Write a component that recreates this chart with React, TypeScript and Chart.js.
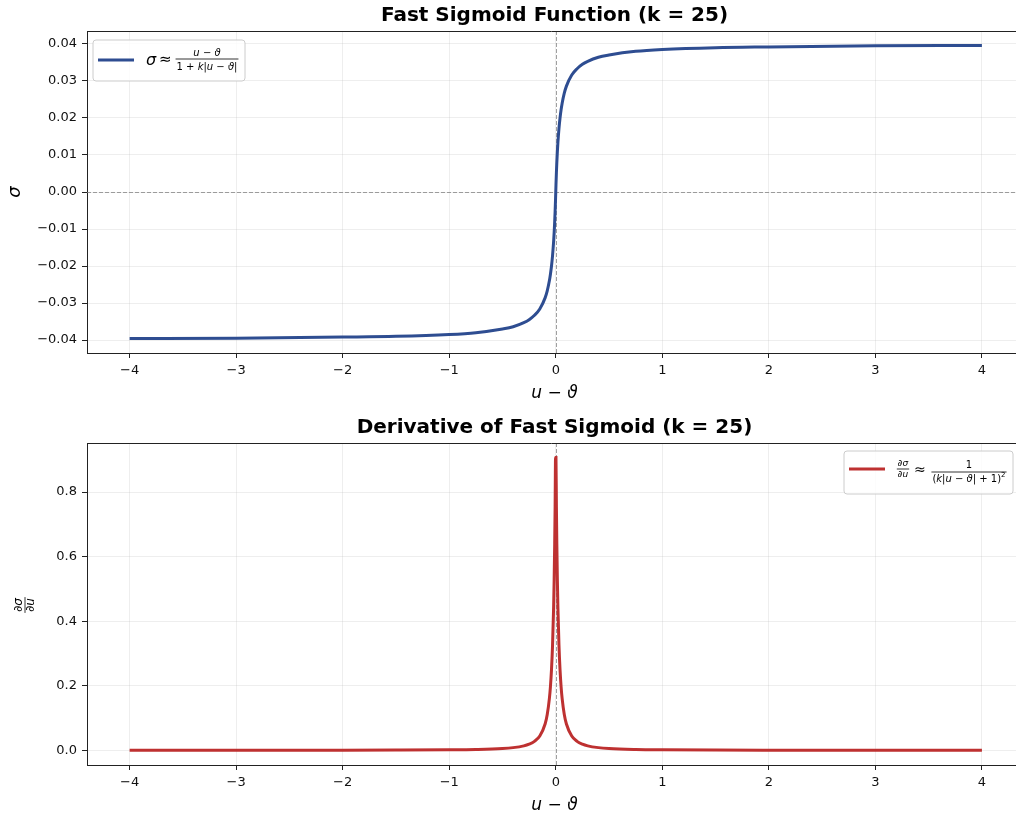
import React, { useEffect, useRef } from "react";
import { Chart, registerables } from "chart.js";

Chart.register(...registerables);

// ---- Data (u − ϑ values and curve values) ----
const xValues: number[] = [
  -4, -3, -2, -1.5, -1, -0.75, -0.5, -0.4, -0.3, -0.25, -0.2, -0.15, -0.1, -0.08, -0.06,
  -0.05, -0.04, -0.03, -0.02, -0.015, -0.01, -0.006, -0.002,
  0.002, 0.006, 0.01, 0.015, 0.02, 0.03, 0.04, 0.05, 0.06, 0.08, 0.1, 0.15, 0.2, 0.25,
  0.3, 0.4, 0.5, 0.75, 1, 1.5, 2, 3, 4,
];

const sigmaValues: number[] = [
  -0.0396, -0.0395, -0.0392, -0.039, -0.0385, -0.038, -0.037, -0.0364, -0.0353, -0.0345,
  -0.0333, -0.0316, -0.0286, -0.0267, -0.024, -0.0222, -0.02, -0.0171, -0.0133, -0.0109,
  -0.008, -0.0052, -0.0019,
  0.0019, 0.0052, 0.008, 0.0109, 0.0133, 0.0171, 0.02, 0.0222, 0.024, 0.0267, 0.0286,
  0.0316, 0.0333, 0.0345, 0.0353, 0.0364, 0.037, 0.038, 0.0385, 0.039, 0.0392, 0.0395, 0.0396,
];

const derivValues: number[] = [
  0.0001, 0.0002, 0.0004, 0.0007, 0.0015, 0.0026, 0.0055, 0.0083, 0.0138, 0.019,
  0.0278, 0.0443, 0.0816, 0.111, 0.16, 0.1975, 0.25, 0.3265, 0.444, 0.529, 0.64, 0.756, 0.907,
  0.907, 0.756, 0.64, 0.529, 0.444, 0.3265, 0.25, 0.1975, 0.16, 0.111, 0.0816, 0.0443,
  0.0278, 0.019, 0.0138, 0.0083, 0.0055, 0.0026, 0.0015, 0.0007, 0.0004, 0.0002, 0.0001,
];

const topTitle = "Fast Sigmoid Function (k = 25)";
const bottomTitle = "Derivative of Fast Sigmoid (k = 25)";
const xTickValues: number[] = [-4, -3, -2, -1, 0, 1, 2, 3, 4];

const FF = '"DejaVu Sans", sans-serif';
const BLUE = "#2E4D91";
const RED = "#BE3131";

type Piece = [string, boolean];

function fnt(size: number, italic = false, bold = false) {
  return `${italic ? "italic " : ""}${bold ? "bold " : ""}${size}px ${FF}`;
}
function richW(ctx: CanvasRenderingContext2D, pcs: Piece[], size: number) {
  let w = 0;
  for (const [t, it] of pcs) {
    ctx.font = fnt(size, it);
    w += ctx.measureText(t).width;
  }
  return w;
}
function drawRich(
  ctx: CanvasRenderingContext2D,
  pcs: Piece[],
  x: number,
  y: number,
  size: number,
  align: "left" | "center"
) {
  const w = richW(ctx, pcs, size);
  let cx = align === "center" ? x - w / 2 : x;
  ctx.textAlign = "left";
  ctx.textBaseline = "middle";
  for (const [t, it] of pcs) {
    ctx.font = fnt(size, it);
    ctx.fillText(t, cx, y);
    cx += ctx.measureText(t).width;
  }
  return w;
}
function drawFrac(
  ctx: CanvasRenderingContext2D,
  num: Piece[],
  den: Piece[],
  cx: number,
  barY: number,
  size: number,
  gapN: number,
  gapD: number,
  sup?: string
) {
  const nw = richW(ctx, num, size);
  const dw = richW(ctx, den, size);
  let supW = 0;
  if (sup) {
    ctx.font = fnt(size * 0.7);
    supW = ctx.measureText(sup).width;
  }
  const w = Math.max(nw, dw + supW) + 2;
  ctx.save();
  ctx.strokeStyle = "#000";
  ctx.lineWidth = 0.8;
  ctx.beginPath();
  ctx.moveTo(cx - w / 2, barY);
  ctx.lineTo(cx + w / 2, barY);
  ctx.stroke();
  ctx.fillStyle = "#000";
  drawRich(ctx, num, cx, barY - gapN, size, "center");
  const dl = cx - (dw + supW) / 2;
  drawRich(ctx, den, dl, barY + gapD, size, "left");
  if (sup) {
    ctx.font = fnt(size * 0.7);
    ctx.textBaseline = "middle";
    ctx.fillText(sup, dl + dw, barY + gapD - size * 0.35);
  }
  ctx.restore();
  return w;
}

function legendBox(ctx: CanvasRenderingContext2D, x: number, y: number, w: number, h: number) {
  const r = 3;
  ctx.save();
  ctx.beginPath();
  ctx.moveTo(x + r, y);
  ctx.lineTo(x + w - r, y);
  ctx.quadraticCurveTo(x + w, y, x + w, y + r);
  ctx.lineTo(x + w, y + h - r);
  ctx.quadraticCurveTo(x + w, y + h, x + w - r, y + h);
  ctx.lineTo(x + r, y + h);
  ctx.quadraticCurveTo(x, y + h, x, y + h - r);
  ctx.lineTo(x, y + r);
  ctx.quadraticCurveTo(x, y, x + r, y);
  ctx.closePath();
  ctx.fillStyle = "rgba(255,255,255,0.85)";
  ctx.fill();
  ctx.strokeStyle = "#cccccc";
  ctx.lineWidth = 1;
  ctx.stroke();
  ctx.restore();
}

const UT: Piece[] = [["u", true], [" − ", false], ["ϑ", true]];

function makeDecor(which: "top" | "bottom") {
  return {
    id: "decor-" + which,
    beforeDatasetsDraw(chart: any) {
      const { ctx, chartArea: a, scales } = chart;
      ctx.save();
      ctx.strokeStyle = "rgba(128,128,128,0.75)";
      ctx.lineWidth = 1;
      ctx.setLineDash([4, 2]);
      const x0 = Math.round(scales.x.getPixelForValue(0)) + 0.5;
      ctx.beginPath();
      ctx.moveTo(x0, a.top);
      ctx.lineTo(x0, a.bottom);
      ctx.stroke();
      if (which === "top") {
        const y0 = Math.round(scales.y.getPixelForValue(0)) + 0.5;
        ctx.beginPath();
        ctx.moveTo(a.left, y0);
        ctx.lineTo(a.right, y0);
        ctx.stroke();
      }
      ctx.restore();
    },
    afterDraw(chart: any) {
      const { ctx, chartArea: a } = chart;
      ctx.save();
      // top spine
      ctx.strokeStyle = "#222";
      ctx.lineWidth = 1;
      ctx.beginPath();
      ctx.moveTo(a.left, a.top + 0.5);
      ctx.lineTo(a.right, a.top + 0.5);
      ctx.stroke();
      // title
      ctx.fillStyle = "#000";
      ctx.font = fnt(20, false, true);
      ctx.textAlign = "center";
      ctx.textBaseline = "middle";
      const cx = (a.left + a.right) / 2 + 3;
      ctx.fillText(which === "top" ? topTitle : bottomTitle, cx, a.top - 15);
      // x label
      drawRich(ctx, UT, (a.left + a.right) / 2 + 3, a.bottom + 41, 17, "center");
      // y label
      if (which === "top") {
        ctx.save();
        ctx.translate(15, (a.top + a.bottom) / 2);
        ctx.rotate(-Math.PI / 2);
        drawRich(ctx, [["σ", true]], 0, 0, 18, "center");
        ctx.restore();
      } else {
        ctx.save();
        ctx.translate(25, (a.top + a.bottom) / 2 + 1);
        ctx.rotate(-Math.PI / 2);
        drawFrac(ctx, [["∂σ", true]], [["∂u", true]], 0, 0, 12, 6, 6);
        ctx.restore();
      }
      // legends
      if (which === "top") {
        const bx = a.left + 6, by = a.top + 9;
        legendBox(ctx, bx, by, 152, 41);
        ctx.strokeStyle = BLUE;
        ctx.lineWidth = 3;
        ctx.beginPath();
        ctx.moveTo(bx + 5, by + 20);
        ctx.lineTo(bx + 41, by + 20);
        ctx.stroke();
        ctx.fillStyle = "#000";
        drawRich(ctx, [["σ", true]], bx + 53, by + 21, 16, "left");
        drawRich(ctx, [["≈", false]], bx + 66, by + 20, 15, "left");
        drawFrac(
          ctx,
          UT,
          [["1 + ", false], ["k", true], ["|", false], ["u", true], [" − ", false], ["ϑ", true], ["|", false]],
          bx + 114,
          by + 19,
          10,
          6,
          8
        );
      } else {
        const bx = a.right - 172, by = a.top + 8;
        legendBox(ctx, bx, by, 169, 43);
        ctx.strokeStyle = RED;
        ctx.lineWidth = 3;
        ctx.beginPath();
        ctx.moveTo(bx + 5, by + 18);
        ctx.lineTo(bx + 41, by + 18);
        ctx.stroke();
        ctx.fillStyle = "#000";
        drawFrac(ctx, [["∂σ", true]], [["∂u", true]], bx + 59, by + 18, 9, 5, 6);
        drawRich(ctx, [["≈", false]], bx + 70, by + 19, 14, "left");
        drawFrac(
          ctx,
          [["1", false]],
          [["(", false], ["k", true], ["|", false], ["u", true], [" − ", false], ["ϑ", true], ["| + 1)", false]],
          bx + 125,
          by + 21,
          10,
          7,
          7,
          "2"
        );
      }
      ctx.restore();
    },
  };
}

function minusFmt(v: number, d: number) {
  if (Math.abs(v) < 1e-9) return (0).toFixed(d);
  return (v < 0 ? "−" : "") + Math.abs(v).toFixed(d);
}

function makeConfig(which: "top" | "bottom"): any {
  const ys = which === "top" ? sigmaValues : derivValues;
  const color = which === "top" ? BLUE : RED;
  const grid = {
    color: "rgba(176,176,176,0.22)",
    tickColor: "#222",
    tickLength: 5,
    lineWidth: 1,
  };
  return {
    type: "line",
    data: {
      datasets: [
        {
          data: xValues.map((x, i) => ({ x, y: ys[i] })),
          borderColor: color,
          borderWidth: 3,
          pointRadius: 0,
          cubicInterpolationMode: "monotone",
          fill: false,
        },
      ],
    },
    options: {
      animation: false,
      responsive: false,
      maintainAspectRatio: false,
      events: [],
      layout: { padding: { left: 0, right: 0, top: which === "top" ? 31 : 36, bottom: 0 } },
      plugins: { legend: { display: false }, title: { display: false }, tooltip: { enabled: false } },
      scales: {
        x: {
          type: "linear",
          min: -4.4,
          max: 4.32,
          afterFit: (s: any) => {
            s.height = which === "top" ? 54 : 50;
          },
          afterBuildTicks: (s: any) => {
            s.ticks = xTickValues.map((v) => ({ value: v }));
          },
          ticks: {
            stepSize: 1,
            includeBounds: false,
            autoSkip: false,
            maxRotation: 0,
            padding: 5,
            color: "#111",
            font: { family: FF, size: 13 },
            callback: (v: any) => minusFmt(Number(v), 0),
          },
          grid,
          border: { color: "#222", width: 1 },
        },
        y: {
          type: "linear",
          min: which === "top" ? -0.0435 : -0.0455,
          max: which === "top" ? 0.0435 : 0.952,
          afterFit: (s: any) => {
            s.width = 87;
          },
          ticks: {
            stepSize: which === "top" ? 0.01 : 0.2,
            includeBounds: false,
            padding: 5,
            color: "#111",
            font: { family: FF, size: 13 },
            callback: (v: any) => minusFmt(Number(v), which === "top" ? 2 : 1),
          },
          grid,
          border: { color: "#222", width: 1 },
        },
      },
    },
    plugins: [makeDecor(which)],
  };
}

function Panel({ which, height }: { which: "top" | "bottom"; height: number }) {
  const ref = useRef<HTMLCanvasElement | null>(null);
  useEffect(() => {
    if (!ref.current) return;
    const chart = new Chart(ref.current, makeConfig(which));
    return () => chart.destroy();
  }, [which]);
  return (
    <canvas
      ref={ref}
      width={1016}
      height={height}
      style={{ display: "block", width: 1016, height }}
    />
  );
}

export default function App() {
  return (
    <div
      style={{
        position: "fixed",
        left: 0,
        top: 0,
        width: 1016,
        height: 815,
        overflow: "hidden",
        background: "#fff",
      }}
    >
      <Panel which="top" height={407} />
      <Panel which="bottom" height={408} />
    </div>
  );
}
